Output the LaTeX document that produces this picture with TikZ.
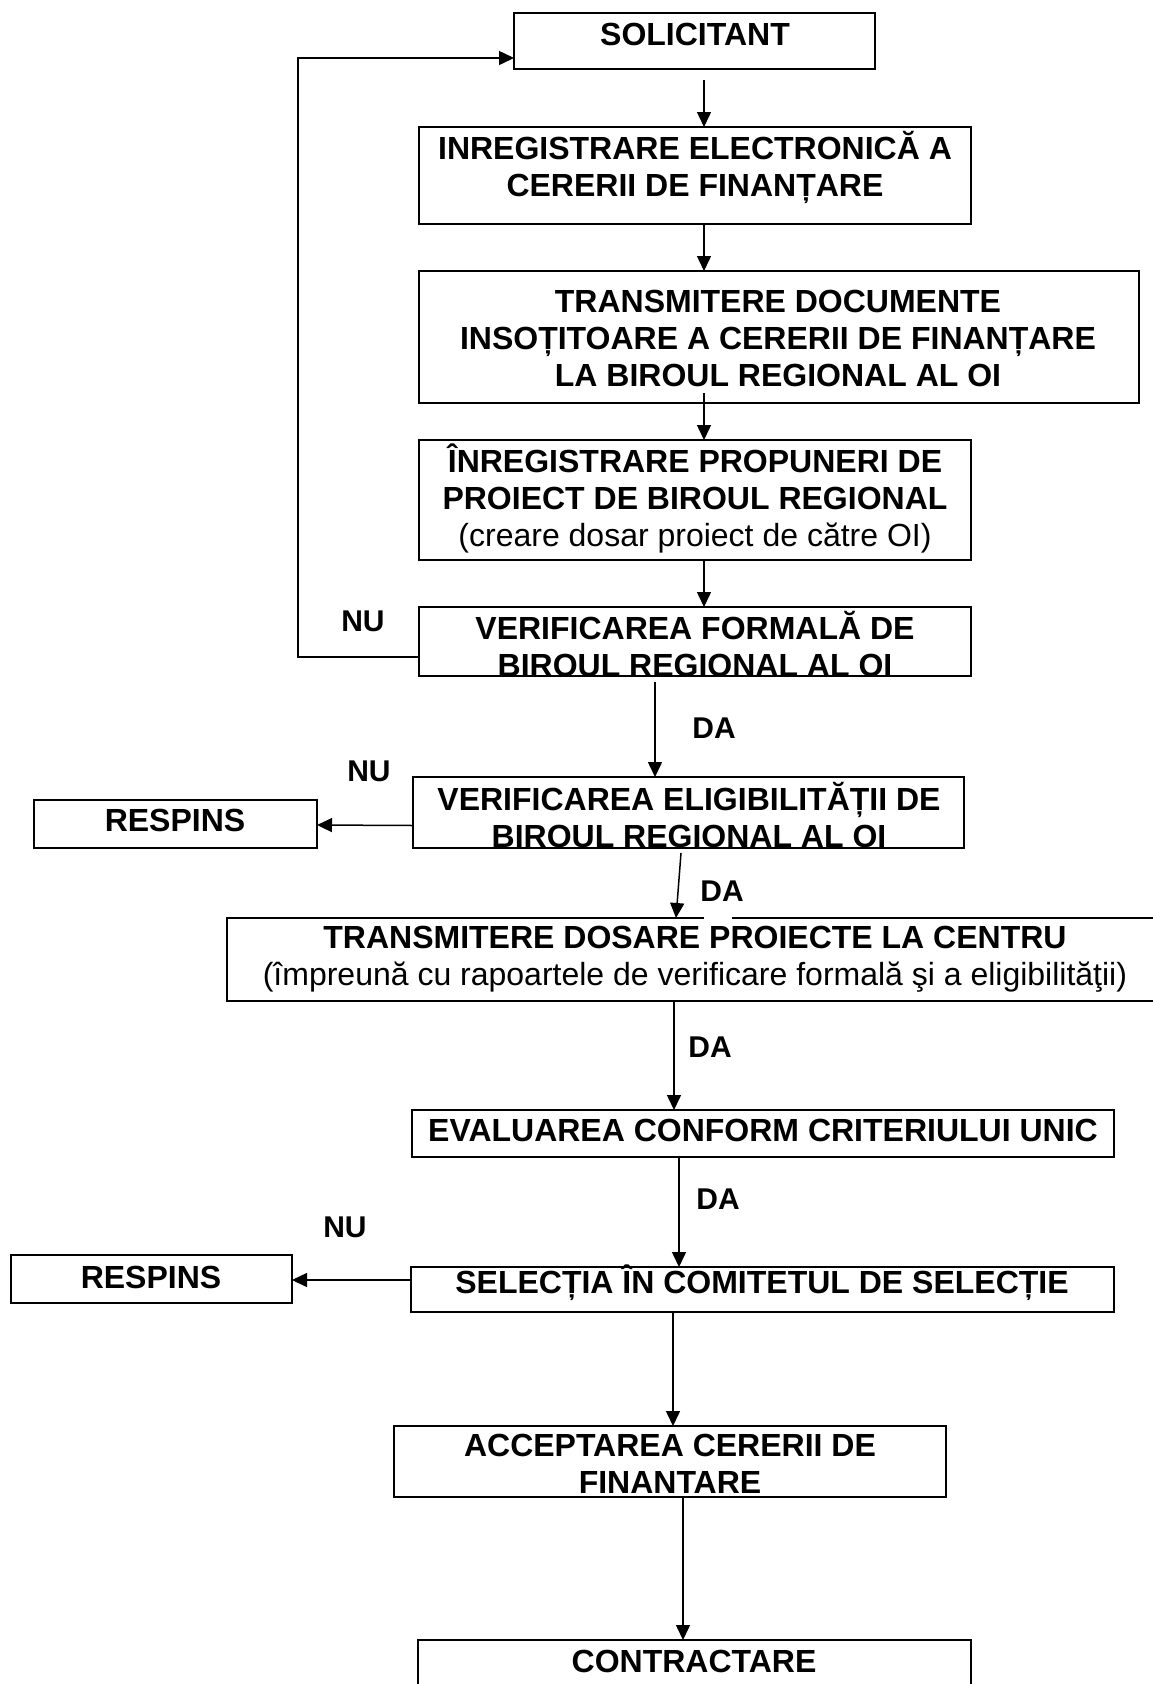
\documentclass[tikz,border=0pt]{standalone}
\usepackage{fontspec}
\setmainfont{Liberation Sans}
\usetikzlibrary{arrows.meta}
\tikzset{
  box/.style={draw, line width=1.5pt, rectangle, inner sep=0pt, outer sep=0pt},
  txt/.style={font=\fontsize{32}{37}\selectfont\bfseries, align=center, inner sep=0pt},
  lbl/.style={font=\fontsize{30}{36}\selectfont\bfseries, inner sep=0pt},
  arr/.style={line width=1.5pt, -{Triangle[length=15pt,width=14pt]}},
  ln/.style={line width=1.5pt}
}
\begin{document}
\begin{tikzpicture}[x=1pt,y=-1pt]
\fill[white] (0,0) rectangle (1153,1684);
\useasboundingbox (0,0) rectangle (1153,1684);
% boxes
\node[box, minimum width=361pt, minimum height=56pt] (solic) at (694.5,41) {};
\node[box, minimum width=552pt, minimum height=97pt] (inreg) at (695,175.5) {};
\node[box, minimum width=720pt, minimum height=132pt] (transm) at (779,337) {};
\node[box, minimum width=552pt, minimum height=120pt] (propun) at (695,500) {};
\node[box, minimum width=552pt, minimum height=69pt] (formal) at (695,641.5) {};
\node[box, minimum width=551pt, minimum height=71pt] (elig) at (688.5,812.5) {};
\node[box, minimum width=283pt, minimum height=48pt] (resp1) at (175.5,824) {};
\node[box, minimum width=940pt, minimum height=83pt] (dosare) at (697,959.5) {};
\node[box, minimum width=702pt, minimum height=47pt] (eval) at (763,1133.5) {};
\node[box, minimum width=703pt, minimum height=45pt] (selec) at (762.5,1289.5) {};
\node[box, minimum width=281pt, minimum height=48pt] (resp2) at (151.5,1279) {};
\node[box, minimum width=552pt, minimum height=71pt] (accept) at (670,1461.5) {};
\node[box, minimum width=553pt, minimum height=80pt] (contr) at (694.5,1680) {};
% texts
\node[txt] (solict) at (695,34) {SOLICITANT};
\node[txt] (inregt) at (695,167.5) {INREGISTRARE ELECTRONICĂ A\\CERERII DE FINANȚARE};
\node[txt] (transmt) at (778,338) {TRANSMITERE DOCUMENTE\\INSOȚITOARE A CERERII DE FINANȚARE\\LA BIROUL REGIONAL AL OI};
\node[txt] (propunt) at (695,498) {ÎNREGISTRARE PROPUNERI DE\\PROIECT DE BIROUL REGIONAL\\{\mdseries (creare dosar proiect de către OI)}};
\node[txt] (formalt) at (695,644) {VERIFICAREA FORMALĂ DE\\BIROUL REGIONAL AL OI};
\node[txt] (eligt) at (689,815) {VERIFICAREA ELIGIBILITĂȚII DE\\BIROUL REGIONAL AL OI};
\node[txt] (resp1t) at (175,820) {RESPINS};
\node[txt] (dosaret) at (695,959.5) {TRANSMITERE DOSARE PROIECTE LA CENTRU\\{\mdseries (împreună cu rapoartele de verificare formală şi a eligibilităţii)}};
\node[txt] (evalt) at (763,1130) {EVALUAREA CONFORM CRITERIULUI UNIC};
\node[txt] (select) at (762,1283) {SELECȚIA ÎN COMITETUL DE SELECȚIE};
\node[txt] (resp2t) at (151,1277) {RESPINS};
\node[txt] (acceptt) at (670,1464) {ACCEPTAREA CERERII DE\\FINANTARE};
\node[txt] (contrt) at (694,1661) {CONTRACTARE};
% labels
\node[lbl] (nu1) at (363,621) {NU};
\node[lbl] (da1) at (714,728) {DA};
\node[lbl] (nu2) at (369,771) {NU};
\node[lbl] (da2) at (722,891) {DA};
\node[lbl] (da3) at (710,1047) {DA};
\node[lbl] (da4) at (718,1199) {DA};
\node[lbl] (nu3) at (345,1227) {NU};
% connectors
\draw[arr] ([xshift=9.5pt,yshift=-11pt]solic.south) -- ([xshift=9pt]inreg.north);
\draw[arr] ([xshift=9pt]inreg.south) -- ([xshift=-75pt]transm.north);
\draw[arr] ([xshift=-75pt,yshift=10pt]transm.south) -- ([xshift=9pt]propun.north);
\draw[arr] ([xshift=9pt]propun.south) -- ([xshift=9pt]formal.north);
\draw[arr] ([yshift=-15.5pt]formal.west) -| (298,58) -- ([yshift=-17pt]solic.west);
\draw[arr] ([xshift=-40pt,yshift=-6pt]formal.south) -- ([xshift=-33.5pt]elig.north);
\draw[arr] ([yshift=-13pt]elig.west) -- ([yshift=-1pt]resp1.east);
\draw[arr] ([xshift=-7.5pt,yshift=-5pt]elig.south) -- ([xshift=-21pt]dosare.north);
\draw[arr] ([xshift=-23pt]dosare.south) -- ([xshift=-89pt]eval.north);
\draw[arr] ([xshift=-84pt]eval.south) -- ([xshift=-83.5pt]selec.north);
\draw[arr] ([yshift=9.5pt]selec.west) -- ([yshift=-1pt]resp2.east);
\draw[arr] ([xshift=-89.5pt]selec.south) -- ([xshift=3pt]accept.north);
\draw[arr] ([xshift=13pt]accept.south) -- ([xshift=-11.5pt]contr.north);
% gap in the top border of the "transmitere dosare" box
\draw[white, line width=2.6pt] (704,918) -- (732,918);
\end{tikzpicture}
\end{document}
